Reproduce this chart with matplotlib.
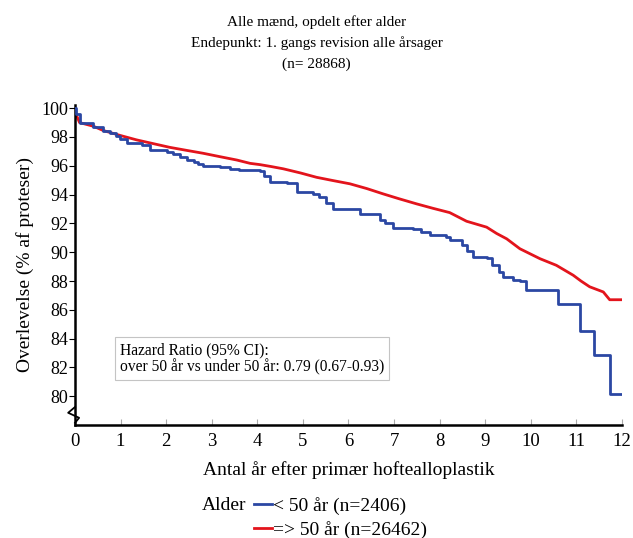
import matplotlib
matplotlib.use("Agg")
import matplotlib.pyplot as plt

plt.rcParams['font.family'] = ['Liberation Serif', 'DejaVu Serif']

# Kaplan-Meier estimates
years_under50 = [0, 0.02, 0.1, 0.4, 0.62, 0.77, 0.91, 0.99, 1.13, 1.46, 1.64, 2.01, 2.15,
                 2.3, 2.45, 2.6, 2.7, 2.81, 3.18, 3.4, 3.6, 4.06, 4.15, 4.28, 4.64, 4.86,
                 5.23, 5.35, 5.5, 5.66, 6.25, 6.47, 6.69, 6.8, 6.98, 7.42, 7.6, 7.79,
                 8.15, 8.22, 8.5, 8.6, 8.73, 9.03, 9.15, 9.3, 9.39, 9.6, 9.76, 9.89,
                 10.6, 11.07, 11.38, 11.73, 12.0]
surv_under50 = [100, 99.6, 99.0, 98.7, 98.45, 98.25, 98.1, 97.85, 97.56, 97.47, 97.1,
                96.94, 96.8, 96.6, 96.4, 96.25, 96.1, 96.0, 95.95, 95.79, 95.7, 95.62,
                95.3, 94.86, 94.79, 94.17, 94.05, 93.8, 93.4, 93.0, 92.67, 92.62, 92.25,
                92.0, 91.7, 91.63, 91.4, 91.16, 91.05, 90.87, 90.5, 90.1, 89.7, 89.6,
                89.1, 88.6, 88.3, 88.1, 88.0, 87.4, 86.4, 84.5, 82.85, 80.15, 80.15]

years_over50 = [0, 0.02, 0.1, 0.4, 0.62, 1.0, 1.35, 1.7, 2.08, 2.45, 2.81, 3.2, 3.55,
                3.84, 4.06, 4.3, 4.57, 4.95, 5.3, 5.65, 6.03, 6.4, 6.76, 7.1, 7.49,
                7.85, 8.22, 8.59, 9.03, 9.25, 9.47, 9.76, 10.2, 10.56, 10.93, 11.1,
                11.29, 11.59, 11.73, 12.0]
surv_over50 = [100, 99.6, 99.0, 98.75, 98.45, 98.1, 97.8, 97.55, 97.28, 97.07, 96.87,
               96.62, 96.4, 96.17, 96.08, 95.95, 95.79, 95.5, 95.2, 94.98, 94.75, 94.42,
               94.05, 93.72, 93.36, 93.05, 92.75, 92.15, 91.74, 91.3, 90.93, 90.24, 89.55,
               89.09, 88.4, 88.0, 87.6, 87.24, 86.7, 86.7]

labels = ['< 50 år (n=2406)', '=> 50 år (n=26462)']
xticks = list(range(0, 13))
yticks = list(range(80, 101, 2))

fig = plt.figure(figsize=(6.33, 5.38), dpi=100)
ax = fig.add_axes([0.1185, 0.210, 0.8641, 0.5956])

ax.step(years_under50, surv_under50, where='post', color='#2b47a3', lw=2.0,
        label=labels[0], zorder=3)
ax.plot(years_over50, surv_over50, color='#e3141c', lw=2.0, label=labels[1], zorder=2)

ax.set_xlim(0, 12)
ax.set_ylim(78.0, 100.25)
ax.set_xticks(xticks)
ax.set_yticks(yticks)
ax.tick_params(axis='y', direction='out', length=4, width=0.8, labelsize=13, pad=1)
ax.tick_params(axis='x', direction='in', length=4, width=0.8, color='#aaaaaa',
               labelsize=13.5, pad=6)
for s in ('top', 'right'):
    ax.spines[s].set_visible(False)
for s in ('left', 'bottom'):
    ax.spines[s].set_linewidth(1.8)

# axis break mark
ax.plot([0, -0.15, 0.09, 0.0], [79.25, 78.85, 78.5, 78.15],
        color='black', lw=1.3, clip_on=False, zorder=4)

ax.set_xlabel('Antal år efter primær hoftealloplastik', fontsize=14, labelpad=8)
ax.set_ylabel('Overlevelse (% af proteser)', fontsize=14, labelpad=5)

fig.text(0.5, 1 - 22 / 538, 'Alle mænd, opdelt efter alder', ha='center', va='center',
         fontsize=11)
fig.text(0.5, 1 - 43 / 538, 'Endepunkt: 1. gangs revision alle årsager', ha='center',
         va='center', fontsize=11)
fig.text(0.5, 1 - 64 / 538, '(n= 28868)', ha='center', va='center', fontsize=11)

ax.text(0.98, 82.62, 'Hazard Ratio (95% CI):\nover 50 år vs under 50 år: 0.79 (0.67-0.93)',
        fontsize=11.2, va='center', ha='left', linespacing=1.05,
        bbox=dict(boxstyle='square,pad=0.3', fc='white', ec='#c4c4c4', lw=0.8))

leg = fig.legend(loc='upper left', bbox_to_anchor=(254 / 633, 1 - 497 / 538),
                 frameon=False, fontsize=14, handlelength=0.9, handletextpad=0.1,
                 labelspacing=0.3, borderpad=0, borderaxespad=0)
fig.text(202 / 633, 1 - 506 / 538, 'Alder', fontsize=14, va='center', ha='left')

fig.savefig('out.png', dpi=100)
